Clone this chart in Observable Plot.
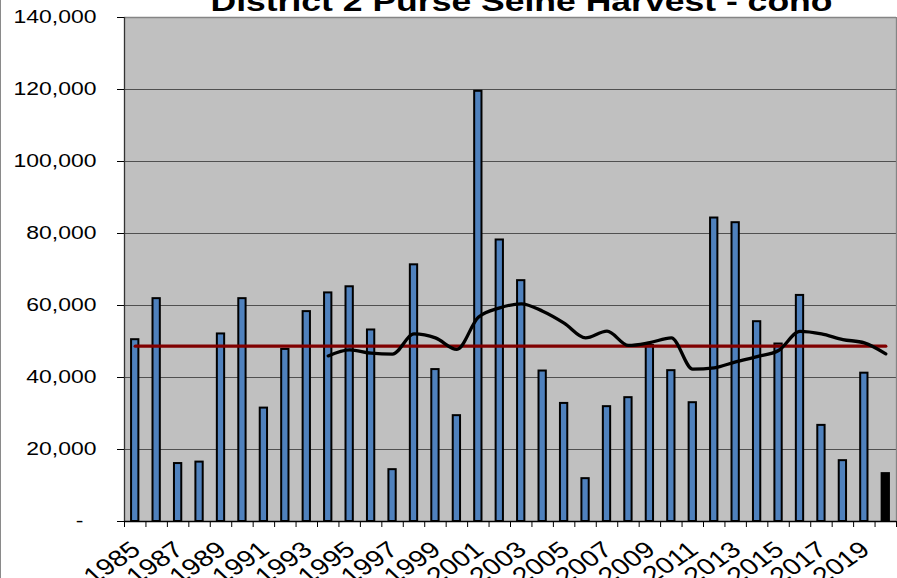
<!DOCTYPE html>
<html><head><meta charset="utf-8">
<script src="https://cdn.jsdelivr.net/npm/d3@7"></script>
<script src="https://cdn.jsdelivr.net/npm/@observablehq/plot@0.6"></script>
<style>
body{margin:0;background:#fff;}
#wrap{width:896px;height:578px;border-left:1px solid #8a8a8a;overflow:hidden;}
</style></head><body><div id="wrap"></div>
<script>
const title = "District 2 Purse Seine Harvest - coho";
const years = [1985,1986,1987,1988,1989,1990,1991,1992,1993,1994,1995,1996,1997,1998,1999,2000,2001,2002,2003,2004,2005,2006,2007,2008,2009,2010,2011,2012,2013,2014,2015,2016,2017,2018,2019,2020];
const harvest = [50500,61900,16100,16500,52100,61900,31500,47800,58300,63500,65200,53200,14400,71300,42200,29400,119500,78200,66900,41800,32800,11900,31900,34400,48900,41900,33000,84300,83000,55500,49300,62800,26700,16900,41200,13300];
const avgYears = [1994,1995,1996,1997,1998,1999,2000,2001,2002,2003,2004,2005,2006,2007,2008,2009,2010,2011,2012,2013,2014,2015,2016,2017,2018,2019,2020];
const movingAvg = [46000,47700,46750,46500,52100,51000,47800,56750,59350,60460,58400,55100,51000,52870,48900,49700,51000,42300,42700,44350,45800,47500,52800,52100,50550,49600,46570];
const longTermAverage = 48700;
const yTicks = [0,20000,40000,60000,80000,100000,120000,140000];
const labelYears = [1985,1987,1989,1991,1993,1995,1997,1999,2001,2003,2005,2007,2009,2011,2013,2015,2017,2019];
const currentYear = 2020;

const data = years.map((year, i) => ({year, harvest: harvest[i]}));
const avgData = avgYears.map((year, i) => ({year, value: movingAvg[i]}));
const boundaries = years.map(y => y - 0.5).concat([years[years.length - 1] + 0.5]);
const avgEnds = [years[0], years[years.length - 1]];

const chart = Plot.plot({
  width: 896, height: 578,
  marginLeft: 123, marginRight: 1, marginTop: 17, marginBottom: 57,
  style: {fontFamily: '"Liberation Sans", Arial, sans-serif', fontSize: "18.5px", background: "#fff", color: "#000", overflow: "visible"},
  x: {type: "linear", domain: [years[0] - 0.5, years[years.length - 1] + 0.5], axis: null},
  y: {domain: [0, 140000], axis: null},
  marks: [
    Plot.frame({fill: "#c0c0c0", stroke: null}),
    Plot.gridY(yTicks.slice(1, -1), {stroke: "#505050", strokeOpacity: 1, strokeWidth: 1}),
    Plot.ruleY([yTicks[yTicks.length - 1]], {stroke: "#858585", strokeWidth: 1.3}),
    Plot.ruleX([boundaries[boundaries.length - 1]], {stroke: "#858585", strokeWidth: 1.3}),
    Plot.rectY(data, {x1: d => d.year - 0.5, x2: d => d.year + 0.5, y1: 0, y2: "harvest",
      insetLeft: 7.07, insetRight: 7.07,
      fill: d => d.year === currentYear ? "#000000" : "#4f81bd", stroke: "#000", strokeWidth: 2}),
    Plot.lineY(avgEnds, {x: d => d, y: () => longTermAverage, stroke: "#800000", strokeWidth: 3.3}),
    Plot.lineY(avgData, {x: "year", y: "value", curve: "monotone-x", stroke: "#000", strokeWidth: 3.3}),
    Plot.ruleX([boundaries[0]], {stroke: "#333", strokeWidth: 1.3}),
    Plot.ruleY([0], {stroke: "#000", strokeWidth: 1.3}),
    Plot.axisY(yTicks, {tickSize: 7, tickPadding: 21, label: null, stroke: "#000",
      tickFormat: d => d === 0 ? "" : d3.format(",")(d)}),
    Plot.axisX(boundaries, {tickSize: 6, tickFormat: () => "", label: null, stroke: "#000"}),
    Plot.text(labelYears, {x: d => d, text: d => String(d), frameAnchor: "bottom",
      textAnchor: "end", lineAnchor: "top", rotate: -40, fontSize: 23}),
    Plot.text(["-"], {frameAnchor: "bottom-left", dx: -45, textAnchor: "middle", lineAnchor: "middle"}),
    Plot.text([title], {frameAnchor: "top", dx: 11, dy: -7, lineAnchor: "bottom", fontWeight: "bold", fontSize: 28})
  ]
});
document.getElementById("wrap").appendChild(chart);

// mimic the horizontally stretched lettering of the reference image
const stretch = 1.24;
chart.querySelectorAll("text").forEach(t => {
  const tr = t.getAttribute("transform");
  if (tr && tr.includes("rotate(")) {
    // shift rotated year labels in screen space, then stretch horizontally
    t.setAttribute("transform", "translate(-6,18) " + tr.replace("rotate(", `scale(${stretch},1) rotate(`));
  } else {
    const len = t.getComputedTextLength();
    if (len > 0) {
      t.setAttribute("textLength", t.textContent === title ? 622 : len * stretch);
      t.setAttribute("lengthAdjust", "spacingAndGlyphs");
    }
  }
});
</script>
</body></html>
